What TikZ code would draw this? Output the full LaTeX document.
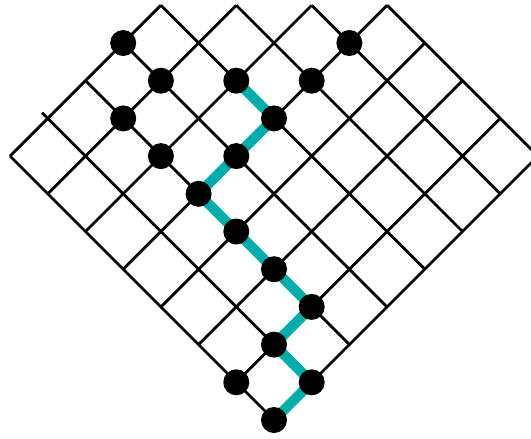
\documentclass[tikz,border=0pt]{standalone}
\usepackage{tikz}
\usetikzlibrary{backgrounds}
\definecolor{Lagoon}{HTML}{00ADAB}
\definecolor{Ink}{HTML}{000000}

\begin{document}
\begin{tikzpicture}[x={(0.377cm,0.377cm)},y={(-0.377cm,0.377cm)},
    dot/.style={circle,fill=Ink,inner sep=0pt,minimum size=0.26cm},
    gridline/.style={line width=0.8pt,Ink},
    walk/.style={line width=2.9pt,Lagoon,line join=round}]
    \path[use as bounding box] (-2.74cm,-0.18cm) rectangle (2.57cm,4.20cm);
    \foreach \a/\b in {0/0,1/0,0/1,1/1,2/1,2/2,2/3,2/4,3/4,4/4,2/5,2/6,3/6,3/7,4/5,5/4,6/4}
      \node[dot] (d\a\b) at (\a,\b) {};
    \begin{scope}[on background layer]
      \foreach \a/\t in {0/7,2/7,3/7,4/7,5/6,6/5,7/4}
        \draw[gridline] (\a,0) -- (\a,\t);
      \draw[gridline] (1,0) -- (1,7.15);
      \foreach \b/\r in {0/7,1/7,2/7,3/7,4/7,5/6,6/5,7/4}
        \draw[gridline] (0,\b) -- (\r,\b);
      \draw[walk] (d00.center) -- (d10.center) -- (d11.center) -- (d21.center) -- (d22.center)
        -- (d23.center) -- (d24.center) -- (d34.center) -- (d44.center) -- (d45.center);
    \end{scope}
  \end{tikzpicture}
\end{document}
